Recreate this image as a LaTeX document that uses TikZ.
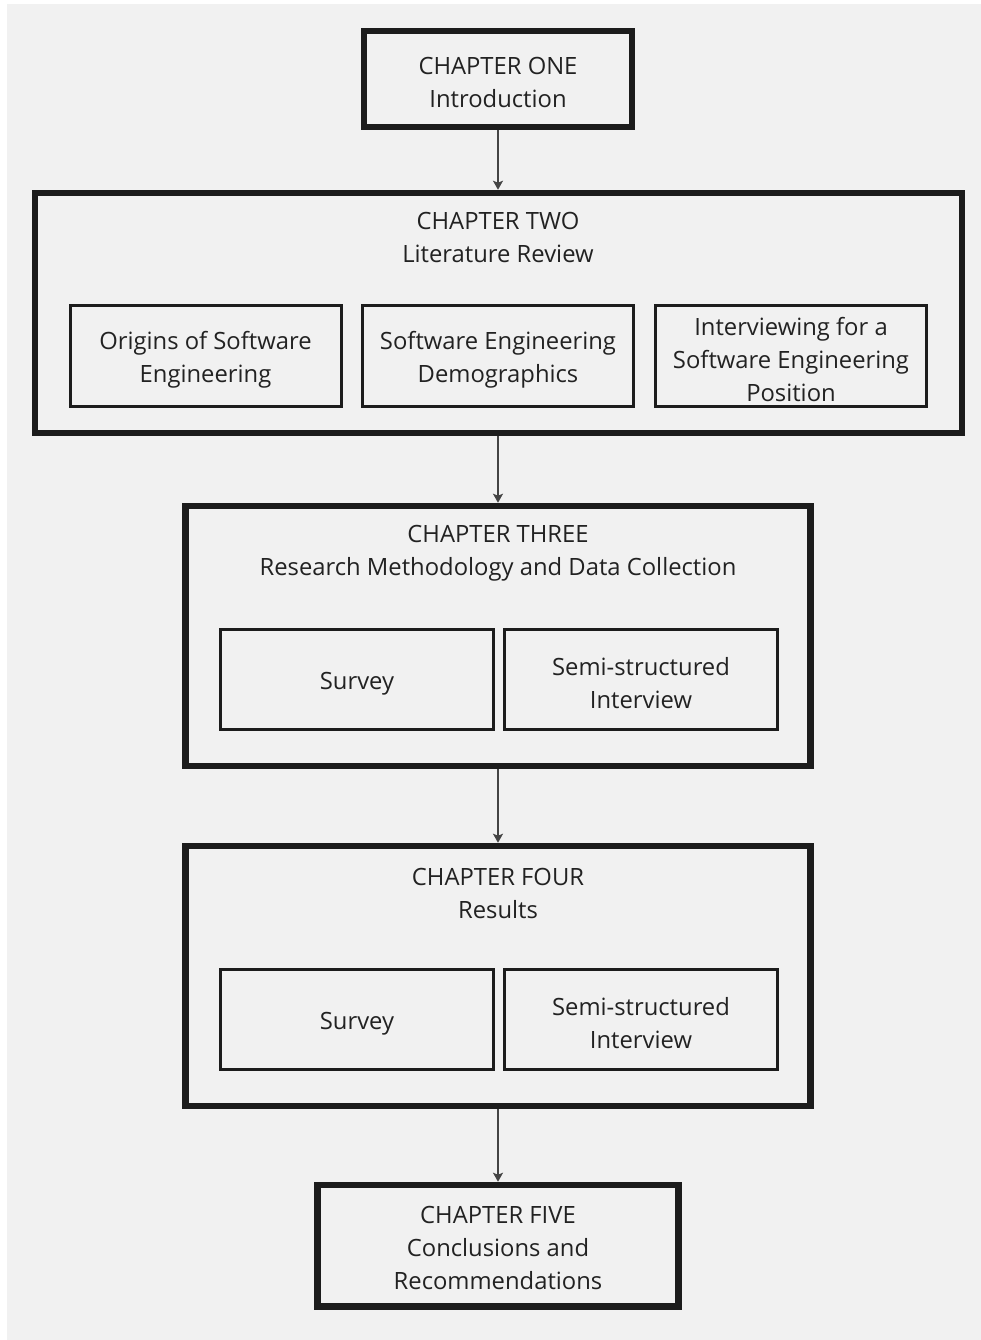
\documentclass[tikz,border=0pt]{standalone}
\usepackage{fontspec}
\setmainfont{Open Sans}
\usetikzlibrary{arrows.meta}
\definecolor{bg}{HTML}{F1F1F1}
\definecolor{edge}{HTML}{1C1C1C}
\definecolor{txt}{HTML}{222222}
\definecolor{arr}{HTML}{444444}
\begin{document}
\begin{tikzpicture}[x=1pt,y=-1pt,
  every node/.style={font=\fontsize{23.8}{33}\selectfont, text=txt, align=center, inner sep=0pt},
  chapbox/.style={draw=edge, line width=6.5pt, rectangle},
  subbox/.style={draw=edge, line width=3pt, rectangle},
  flow/.style={draw=arr, line width=1.8pt, -{Stealth[length=9pt,width=10pt,inset=2pt]}}
]
\useasboundingbox (0,0) rectangle (981,1340);
\fill[white] (0,0) rectangle (981,1340);
\fill[bg] (7,4) rectangle (981,1340);

% Chapter one
\node[chapbox, minimum width=268pt, minimum height=96pt] (c1) at (498,79) {};
\node (c1t) at (498,82) {CHAPTER ONE\\Introduction};

% Chapter two
\node[chapbox, minimum width=927pt, minimum height=240pt] (c2) at (498.5,313) {};
\node (c2t) at (498,237) {CHAPTER TWO\\Literature Review};
\node[subbox, minimum width=271pt, minimum height=101pt] (c2a) at (205.5,356) {};
\node (c2at) at (205.5,360) {Origins of Software\\Engineering};
\node[subbox, minimum width=271pt, minimum height=101pt] (c2b) at (498,356) {};
\node (c2bt) at (498,360) {Software Engineering\\Demographics};
\node[subbox, minimum width=271pt, minimum height=101pt] (c2c) at (791,356) {};
\node (c2ct) at (791,360) {Interviewing for a\\Software Engineering\\Position};

% Chapter three
\node[chapbox, minimum width=625pt, minimum height=260pt] (c3) at (498,636) {};
\node (c3t) at (498,553) {CHAPTER THREE\\Research Methodology and Data Collection};
\node[subbox, minimum width=273pt, minimum height=100pt] (c3a) at (357,679.5) {};
\node (c3at) at (357,683.5) {Survey};
\node[subbox, minimum width=273pt, minimum height=100pt] (c3b) at (641,679.5) {};
\node (c3bt) at (641,683.5) {Semi-structured\\Interview};

% Chapter four
\node[chapbox, minimum width=625pt, minimum height=260pt] (c4) at (498,976) {};
\node (c4t) at (498,893) {CHAPTER FOUR\\Results};
\node[subbox, minimum width=273pt, minimum height=100pt] (c4a) at (357,1019.5) {};
\node (c4at) at (357,1023.5) {Survey};
\node[subbox, minimum width=273pt, minimum height=100pt] (c4b) at (641,1019.5) {};
\node (c4bt) at (641,1023.5) {Semi-structured\\Interview};

% Chapter five
\node[chapbox, minimum width=361pt, minimum height=121.5pt] (c5) at (498,1245.75) {};
\node (c5t) at (498,1248) {CHAPTER FIVE\\Conclusions and\\Recommendations};

% Connectors
\draw[flow] (c1.south) -- (c1.south |- c2.north);
\draw[flow] (c2.south -| c1.south) -- (c3.north);
\draw[flow] (c3.south) -- (c4.north);
\draw[flow] (c4.south) -- (c5.north);
\end{tikzpicture}
\end{document}
